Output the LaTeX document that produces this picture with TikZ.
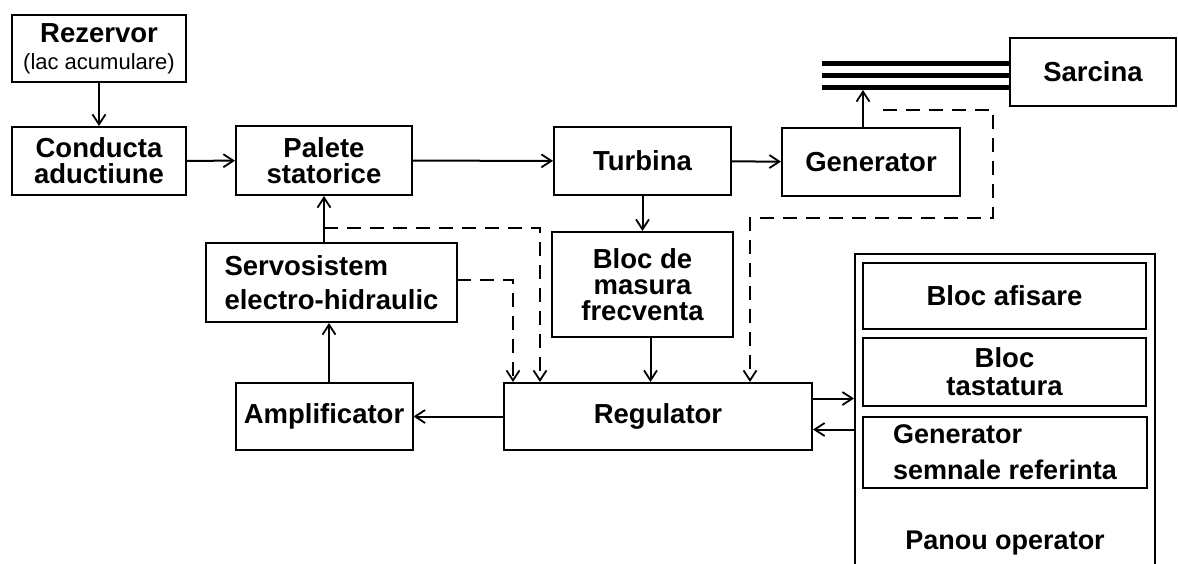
\documentclass[tikz,border=0pt]{standalone}
\usepackage{fontspec}
\setmainfont{Liberation Sans}
\usetikzlibrary{arrows.meta}

\begin{document}
\begin{tikzpicture}[x=1pt,y=-1pt,>={Straight Barb[length=10pt,width=13pt,line width=1.8pt]},
  box/.style={draw,line width=2pt,inner sep=0pt,align=center,font=\bfseries\fontsize{27.5}{26}\selectfont},
  flow/.style={->,line width=2pt},
  sig/.style={->,line width=2pt,dash pattern=on 14pt off 9pt}]
\useasboundingbox (0,0) rectangle (1178,563);
\node[box,minimum width=174,minimum height=67] (rez) at (99,48.5)
  {Rezervor\\[1pt]{\mdseries\fontsize{22}{22}\selectfont(lac acumulare)}};
\node[box,minimum width=174,minimum height=68] (cond) at (99,161) {Conducta\\aductiune};
\node[box,minimum width=176,minimum height=69] (pal) at (324,160.5) {Palete\\statorice};
\node[box,minimum width=177,minimum height=68] (turb) at (642.5,161) {Turbina};
\node[box,minimum width=178,minimum height=68] (gen) at (871,162) {Generator};
\node[box,minimum width=166,minimum height=68] (sarc) at (1093,72) {Sarcina};
\node[box,minimum width=181,minimum height=105] (bloc) at (642.5,284.5) {Bloc de\\masura\\frecventa};
\node[box,minimum width=251,minimum height=79,align=left,font=\bfseries\fontsize{27.5}{34}\selectfont] (servo) at (331.5,282.5) {Servosistem\\electro-hidraulic};
\node[box,minimum width=177,minimum height=67] (ampl) at (324,416.5) {Amplificator};
\node[box,minimum width=308,minimum height=67] (reg) at (658,416.5) {Regulator};
\node[box,minimum width=300,minimum height=322] (panou) at (1005,415) {};
\node[box,minimum width=283,minimum height=66] (afis) at (1004.5,296) {Bloc afisare};
\node[box,minimum width=283,minimum height=68,font=\bfseries\fontsize{27.5}{28}\selectfont] (tast) at (1004.5,372) {Bloc\\tastatura};
\node[box,minimum width=284,minimum height=71,align=left,font=\bfseries\fontsize{27}{36}\selectfont] (gsem) at (1005,452.5) {Generator\\semnale referinta};
\node[font=\bfseries\fontsize{27}{27}\selectfont] (panlbl) at (1005,543) {Panou operator};

\foreach \y in {63,75,87}
  \draw[line width=5pt] (822,\y) -- (sarc.west |- 0,\y);
\coordinate (busend) at (863,90);
\coordinate (gensig) at (883,110);
\coordinate (servosig) at (457,280);

\draw[flow] (rez) -- (cond);
\draw[flow] (cond) -- (pal);
\draw[flow] (pal) -- (turb);
\draw[flow] (turb) -- (gen);
\draw[flow] (gen.north -| busend) -- (busend);
\draw[flow] (turb.south) -- (turb.south |- bloc.north);
\draw[flow] ([xshift=8pt]bloc.south) -- ([xshift=8pt]bloc.south |- reg.north);
\draw[flow] (reg) -- (ampl);
\draw[flow] ([xshift=5pt]ampl.north) -- ([xshift=5pt]ampl.north |- servo.south);
\draw[flow] (pal.south |- servo.north) -- (pal.south);
\draw[flow] ([yshift=18pt]reg.east) -- ([yshift=18pt]reg.east -| panou.west);
\draw[flow] ([yshift=-13pt]reg.east -| panou.west) -- ([yshift=-13pt]reg.east);

\draw[sig] (pal.south |- 0,228) -- (540,228) -- (540,0 |- reg.north);
\draw[sig] (servosig) -- (513,280) -- (513,0 |- reg.north);
\draw[sig] (gensig) -- (993,110) -- (993,218) -- (750,218) -- (750,0 |- reg.north);
\end{tikzpicture}
\end{document}
